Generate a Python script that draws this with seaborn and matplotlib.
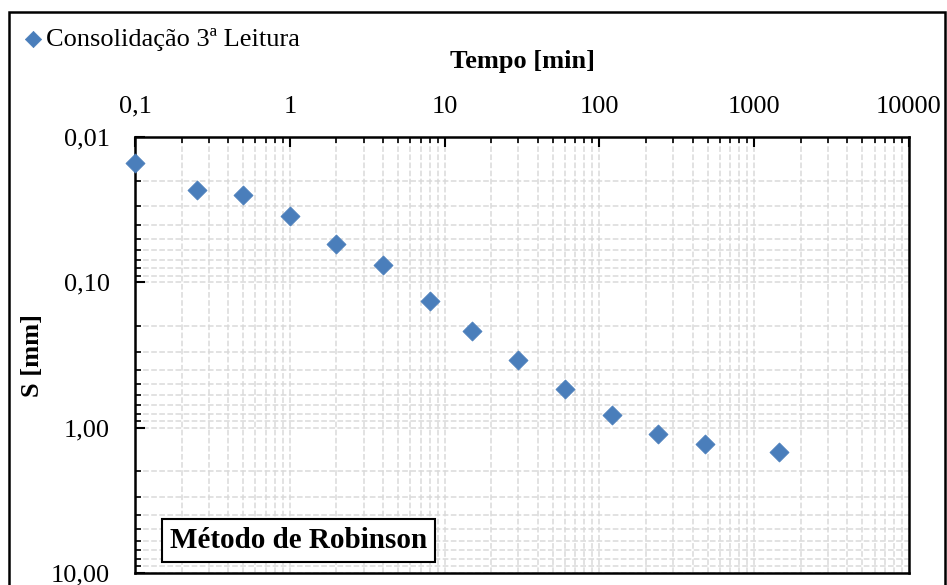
import matplotlib
matplotlib.use('Agg')
import matplotlib.pyplot as plt
import matplotlib.ticker as mticker
from matplotlib.patches import Rectangle
import seaborn as sns
import pandas as pd
import numpy as np

# data
tempo = [0.1, 0.25, 0.5, 1, 2, 4, 8, 15, 30, 60, 120, 240, 480, 1440]
recalque = [0.0151, 0.0232, 0.0251, 0.035, 0.0545, 0.076, 0.1345, 0.216,
            0.343, 0.542, 0.819, 1.107, 1.297, 1.472]
xticks = [0.1, 1, 10, 100, 1000, 10000]
xticklabels = ['0,1', '1', '10', '100', '1000', '10000']
yticks = [0.01, 0.1, 1, 10]
yticklabels = ['0,01', '0,10', '1,00', '10,00']

df = pd.DataFrame({'Tempo': tempo, 'S': recalque})

sns.set_style('white')
plt.rcParams['font.family'] = ['Liberation Serif', 'DejaVu Serif']
plt.rcParams['text.color'] = 'black'
plt.rcParams['xtick.color'] = 'black'
plt.rcParams['ytick.color'] = 'black'
plt.rcParams['axes.labelcolor'] = 'black'

fig = plt.figure(figsize=(9.47, 5.85), dpi=100)
ax = fig.add_axes([0.1426, 0.0205, 0.8173, 0.7453])

sns.scatterplot(data=df, x='Tempo', y='S', marker='D', s=95, color='#4A7EBB',
                edgecolor='#4A7EBB', linewidth=0.5, ax=ax, clip_on=False,
                zorder=3, legend=False)

ax.set_xscale('log')
ax.set_yscale('log')
ax.set_xlim(0.1, 10000)
ax.set_ylim(10, 0.01)

ax.xaxis.set_ticks_position('top')
ax.xaxis.set_label_position('top')
ax.set_xticks(xticks)
ax.set_xticklabels(xticklabels)
ax.set_yticks(yticks)
ax.set_yticklabels(yticklabels)
ax.xaxis.set_minor_locator(mticker.LogLocator(base=10, subs=np.arange(2, 10)))
ax.yaxis.set_minor_locator(mticker.LogLocator(base=10, subs=np.arange(2, 10)))
ax.xaxis.set_minor_formatter(mticker.NullFormatter())
ax.yaxis.set_minor_formatter(mticker.NullFormatter())

ax.tick_params(axis='both', which='major', direction='in', length=7, width=1.5,
               labelsize=19, pad=14, top=True, bottom=False, left=True, right=False)
ax.tick_params(axis='y', which='major', pad=18)
ax.tick_params(axis='both', which='minor', direction='in', length=4, width=1.2,
               top=True, bottom=False, left=True, right=False)

ax.grid(True, which='both', linestyle='--', color='#DADADA', linewidth=1.1)
for sp in ax.spines.values():
    sp.set_visible(True)
    sp.set_color('black')
    sp.set_linewidth(1.8)

ax.set_xlabel('Tempo [min]', fontsize=19, fontweight='bold', labelpad=20)
ax.set_ylabel('S [mm]', fontsize=19, fontweight='bold')
ax.yaxis.set_label_coords(-0.118, 0.50)

ax.text(0.045, 0.075, 'Método de Robinson', transform=ax.transAxes, fontsize=21,
        fontweight='bold', va='center', ha='left',
        bbox=dict(boxstyle='square,pad=0.28', facecolor='white', edgecolor='black', linewidth=1.5),
        zorder=5)

fig.legend(handles=ax.collections, labels=['Consolidação 3ª Leitura'], loc='upper left',
           bbox_to_anchor=(-0.004, 0.994), frameon=False, fontsize=19,
           handletextpad=0.0, handlelength=1.0, markerscale=0.85)

fig.patches.append(Rectangle((0.009, -0.01), 0.989, 0.99, transform=fig.transFigure,
                             fill=False, edgecolor='black', linewidth=1.8))

fig.savefig('out.png', dpi=100)
